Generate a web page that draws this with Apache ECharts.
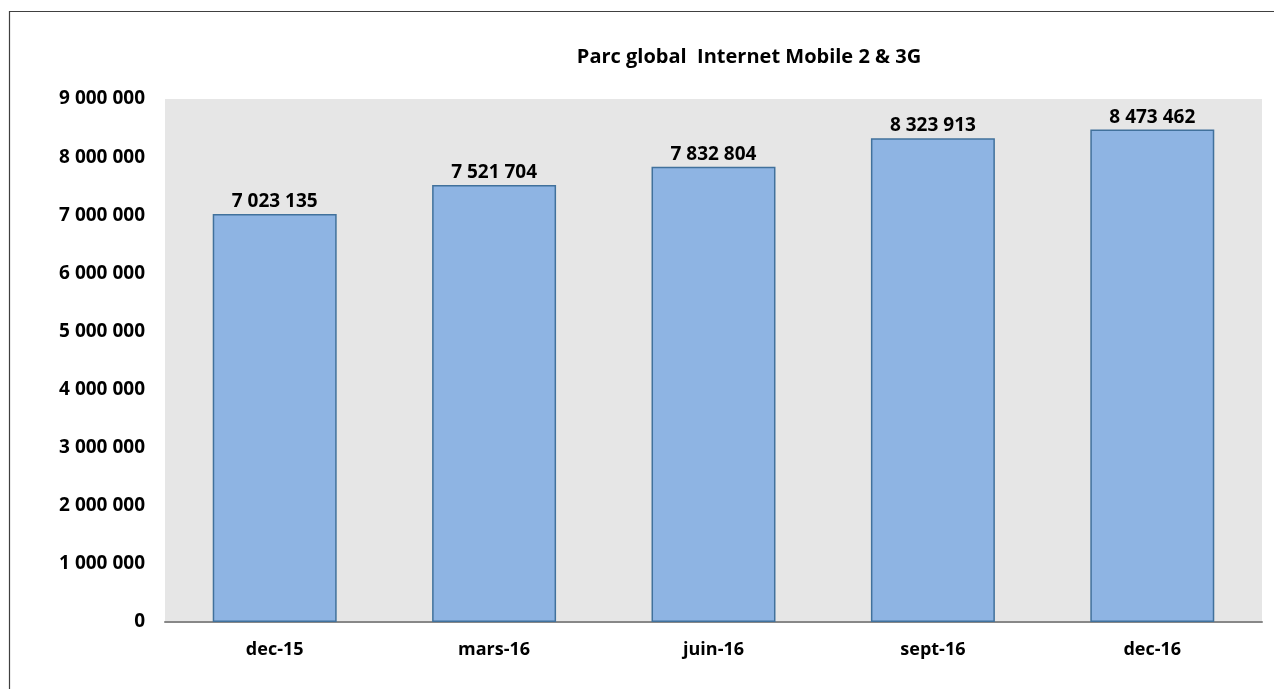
<!DOCTYPE html>
<html><head><meta charset="utf-8">
<script src="https://cdn.jsdelivr.net/npm/echarts@6/dist/echarts.min.js"></script>
<style>html,body{margin:0;padding:0;background:#fff}#c{width:1274px;height:689px}</style>
</head><body><div id="c"></div>
<script>
const categories = ['dec-15', 'mars-16', 'juin-16', 'sept-16', 'dec-16'];
const values = [7023135, 7521704, 7832804, 8323913, 8473462];
const titleText = 'Parc global  Internet Mobile 2 & 3G';

function fmt(v){ return String(v).replace(/\B(?=(\d{3})+(?!\d))/g, ' '); }
const FONT = '"Open Sans", sans-serif';
const chart = echarts.init(document.getElementById('c'));
chart.setOption({
  animation: false,
  backgroundColor: '#fff',
  title: { text: titleText, left: 744, top: 42, textAlign: 'center',
    textStyle: { fontFamily: FONT, fontWeight: 'bold', fontSize: 20, color: '#000' } },
  graphic: [{ type: 'rect', shape: { x: 9.5, y: 11.5, width: 1400, height: 800 }, silent: true,
    style: { fill: 'none', stroke: '#404040', lineWidth: 1.2 } }],
  grid: { left: 165, right: 12, top: 99, bottom: 67, show: true, backgroundColor: '#e6e6e6', borderWidth: 0 },
  xAxis: { type: 'category', data: categories,
    axisLine: { lineStyle: { color: '#888', width: 2 } }, axisTick: { show: false },
    axisLabel: { margin: 19, fontFamily: FONT, fontWeight: 'bold', fontSize: 18, color: '#000' } },
  yAxis: { type: 'value', min: 0, max: 9000000, interval: 1000000,
    splitLine: { show: false }, axisLine: { show: false }, axisTick: { show: false },
    axisLabel: { margin: 20, formatter: fmt, fontFamily: FONT, fontWeight: 'bold', fontSize: 19, color: '#000' } },
  series: [{ type: 'bar', data: values, barWidth: '56.5%',
    itemStyle: { color: '#8eb4e3', borderColor: '#41719c', borderWidth: 1.5 },
    label: { show: true, position: 'top', distance: 3, formatter: p => fmt(p.value),
      fontFamily: FONT, fontWeight: 'bold', fontSize: 19, color: '#000' } }]
});
</script></body></html>
